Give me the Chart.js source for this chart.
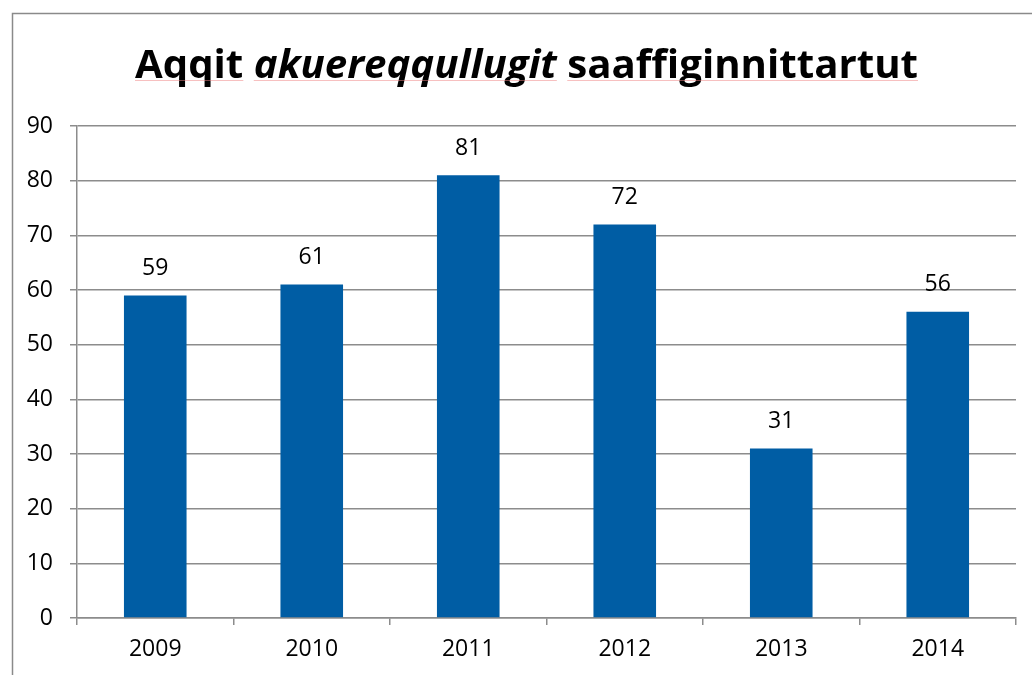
<!DOCTYPE html>
<html>
<head>
<meta charset="utf-8">
<script src="https://cdn.jsdelivr.net/npm/chart.js@4/dist/chart.umd.min.js"></script>
<style>
html,body{margin:0;padding:0;background:#fff;overflow:hidden;}
#wrap{position:absolute;left:0;top:0;width:1032px;height:675px;}
</style>
</head>
<body>
<div id="wrap"><canvas id="c" width="1032" height="675"></canvas></div>
<script>
const categories = ['2009','2010','2011','2012','2013','2014'];
const values = [59, 61, 81, 72, 31, 56];
const yTicks = [0,10,20,30,40,50,60,70,80,90];
const titleParts = [
  {text:'Aqqit ', italic:false},
  {text:'akuereqqullugit', italic:true},
  {text:' saaffiginnittartut', italic:false}
];

const FONT = '"Open Sans", sans-serif';
const TICKSIZE = 23;

const framePlugin = {
  id:'frame',
  beforeDraw(chart){
    const ctx = chart.ctx;
    ctx.save();
    ctx.fillStyle='#fff';
    ctx.fillRect(0,0,chart.width,chart.height);
    ctx.strokeStyle='#8a8a8a';
    ctx.lineWidth=1.5;
    ctx.beginPath();
    ctx.moveTo(12.5, 700);
    ctx.lineTo(12.5, 13.5);
    ctx.lineTo(1100, 13.5);
    ctx.stroke();
    ctx.restore();
  },
  afterDraw(chart){
    const ctx = chart.ctx;
    ctx.save();
    // title
    const size = 40;
    const fonts = titleParts.map(p => (p.italic?'italic ':'') + 'bold ' + size + 'px ' + FONT);
    let total = 0;
    const widths = titleParts.map((p,i)=>{ctx.font=fonts[i]; const w=ctx.measureText(p.text).width; total+=w; return w;});
    const targetLeft = 135, targetW = 783;
    const sx = targetW/total;
    const baseline = 78;
    ctx.translate(targetLeft, baseline);
    ctx.scale(sx,1);
    ctx.fillStyle='#000';
    ctx.textBaseline='alphabetic';
    let x=0;
    const wordSpans=[];
    titleParts.forEach((p,i)=>{
      ctx.font=fonts[i];
      ctx.fillText(p.text,x,0);
      const lead = p.text.length - p.text.trimStart().length;
      const leadW = lead? ctx.measureText(p.text.slice(0,lead)).width:0;
      const trail = p.text.length - p.text.trimEnd().length;
      const trailW = trail? ctx.measureText(p.text.slice(p.text.length-trail)).width:0;
      wordSpans.push([x+leadW, x+widths[i]-trailW]);
      x+=widths[i];
    });
    ctx.strokeStyle='rgba(240,130,130,0.5)';
    ctx.lineWidth=1;
    wordSpans.forEach(s=>{ctx.beginPath();ctx.moveTo(s[0],2.5);ctx.lineTo(s[1],2.5);ctx.stroke();});
    ctx.restore();

    // value labels
    const meta = chart.getDatasetMeta(0);
    ctx.save();
    ctx.font = TICKSIZE+'px '+FONT;
    ctx.fillStyle='#000';
    ctx.textAlign='center';
    ctx.textBaseline='middle';
    meta.data.forEach((bar,i)=>{
      ctx.fillText(String(chart.data.datasets[0].data[i]), bar.x, bar.y-27);
    });
    ctx.restore();
  }
};

new Chart(document.getElementById('c'), {
  type:'bar',
  data:{
    labels:categories,
    datasets:[{data:values, backgroundColor:'#005DA4', borderWidth:0, categoryPercentage:1, barPercentage:0.4}]
  },
  options:{
    responsive:false,
    animation:false,
    devicePixelRatio:1,
    layout:{padding:{left:0,right:16,top:126,bottom:0}},
    plugins:{legend:{display:false},title:{display:false},tooltip:{enabled:false}},
    scales:{
      y:{
        min:0,max:90,
        afterBuildTicks(scale){scale.ticks = yTicks.map(v=>({value:v}));},
        afterFit(scale){scale.width=77;},
        ticks:{font:{family:FONT,size:TICKSIZE},color:'#000',padding:17},
        grid:{color:'#8c8c8c',lineWidth:1.5,tickLength:7,drawTicks:true},
        border:{display:true,color:'#8c8c8c',width:1.5}
      },
      x:{
        afterFit(scale){scale.height=57;},
        ticks:{font:{family:FONT,size:TICKSIZE},color:'#000',padding:11},
        grid:{offset:true,drawOnChartArea:false,drawTicks:true,tickLength:7,color:'#8c8c8c',lineWidth:1.5},
        border:{display:true,color:'#8c8c8c',width:1.5}
      }
    }
  },
  plugins:[framePlugin]
});
</script>
</body>
</html>
